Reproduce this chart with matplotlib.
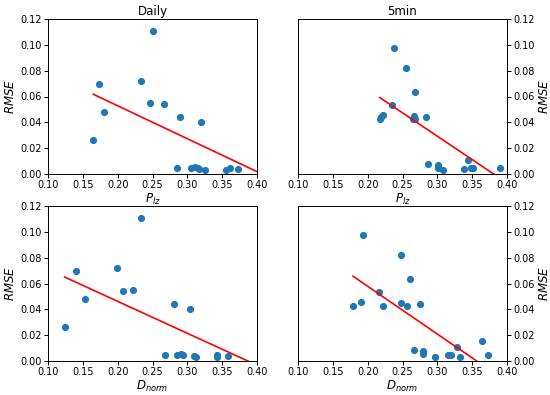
import matplotlib
matplotlib.use("Agg")
import matplotlib.pyplot as plt
import numpy as np

# Daily RMSE values
daily_rmse = [0.0263, 0.0697, 0.0480, 0.0723, 0.1110, 0.0550, 0.0539, 0.0441, 0.0405,
              0.0046, 0.0046, 0.0052, 0.0049, 0.0041, 0.0034, 0.0031, 0.0049, 0.0036, 0.0111]
daily_plz = [0.165, 0.1734, 0.180, 0.2335, 0.250, 0.2464, 0.2666, 0.2896, 0.3194,
             0.2858, 0.3055, 0.311, 0.316, 0.3165, 0.3256, 0.3549, 0.3611, 0.3731, 0.43]
daily_dnorm = [0.124, 0.1395, 0.1525, 0.1995, 0.233, 0.2225, 0.207, 0.281, 0.3045,
               0.2685, 0.2845, 0.2905, 0.2935, 0.3095, 0.3125, 0.3425, 0.343, 0.358, 0.405]

# 5min RMSE values (ordered by P_lz reading)
min5_rmse = [0.0978, 0.0818, 0.0632, 0.0534, 0.0426, 0.0444, 0.0454, 0.0449, 0.0426, 0.0428,
             0.0441, 0.0080, 0.0072, 0.0049, 0.0031, 0.0036, 0.0111, 0.0044, 0.0044, 0.0046]
min5_plz = [0.2373, 0.2545, 0.2679, 0.2349, 0.2172, 0.2196, 0.2215, 0.266, 0.265, 0.268,
            0.2833, 0.2861, 0.3014, 0.301, 0.3077, 0.3388, 0.3445, 0.3483, 0.3517, 0.3895]
# 5min RMSE values (ordered by D_norm reading)
min5_rmse_d = [0.0978, 0.0818, 0.0632, 0.0534, 0.0426, 0.0454, 0.0426, 0.0452, 0.0423, 0.0441,
               0.0083, 0.0077, 0.0052, 0.0028, 0.0044, 0.0044, 0.0034, 0.0111, 0.0157, 0.0049]
min5_dnorm = [0.1928, 0.2474, 0.2608, 0.2163, 0.179, 0.19, 0.2225, 0.2478, 0.256, 0.2751,
              0.2665, 0.28, 0.2794, 0.2967, 0.3153, 0.320, 0.332, 0.3278, 0.3636, 0.3732]

# regression line (slope, intercept)
fit_daily_plz = (-0.2549, 0.1038)
fit_5min_plz = (-0.3621, 0.1379)
fit_daily_dnorm = (-0.2471, 0.0956)
fit_5min_dnorm = (-0.3697, 0.1318)

xticks = [0.10, 0.15, 0.20, 0.25, 0.30, 0.35, 0.40]
yticks = [0.00, 0.02, 0.04, 0.06, 0.08, 0.10, 0.12]

plt.rcParams['font.family'] = ['DejaVu Sans']
plt.rcParams['mathtext.fontset'] = 'dejavusans'

fig = plt.figure(figsize=(5.5, 3.95), dpi=100)
L1, R1 = 48/550, 257/550
L2, R2 = 298/550, 507/550
T1, B1 = 1-19/395, 1-174/395
T2, B2 = 1-206/395, 1-361/395

panels = [
    (L1, B1, R1-L1, T1-B1, daily_plz, daily_rmse, fit_daily_plz, r'$P_{lz}$', 'Daily', False),
    (L2, B1, R2-L2, T1-B1, min5_plz, min5_rmse, fit_5min_plz, r'$P_{lz}$', '5min', True),
    (L1, B2, R1-L1, T2-B2, daily_dnorm, daily_rmse, fit_daily_dnorm, r'$D_{norm}$', None, False),
    (L2, B2, R2-L2, T2-B2, min5_dnorm, min5_rmse_d, fit_5min_dnorm, r'$D_{norm}$', None, True),
]

for (l, b, w, h, xs, ys, fit, xl, title, right) in panels:
    ax = fig.add_axes([l, b, w, h])
    ax.scatter(xs, ys, s=17, color='#1f77b4', zorder=2)
    xs_arr = np.array(xs)
    xx = np.array([xs_arr.min(), xs_arr.max()])
    ax.plot(xx, fit[0]*xx + fit[1], color='red', lw=1.2, zorder=3)
    ax.set_xlim(0.10, 0.40)
    ax.set_ylim(0.0, 0.12)
    ax.set_xticks(xticks)
    ax.set_yticks(yticks)
    ax.set_xticklabels([f"{v:.2f}" for v in xticks])
    ax.set_yticklabels([f"{v:.2f}" for v in yticks])
    ax.tick_params(labelsize=7, length=3, width=0.7, pad=1.5)
    ax.set_xlabel(xl, fontsize=8.5, labelpad=1)
    ax.set_ylabel('$RMSE$', fontsize=8.5, labelpad=2)
    if right:
        ax.yaxis.tick_right()
        ax.yaxis.set_label_position('right')
    if title:
        ax.set_title(title, fontsize=8.5, pad=3)
    for sp in ax.spines.values():
        sp.set_linewidth(0.7)

fig.savefig('out.png', dpi=100)
